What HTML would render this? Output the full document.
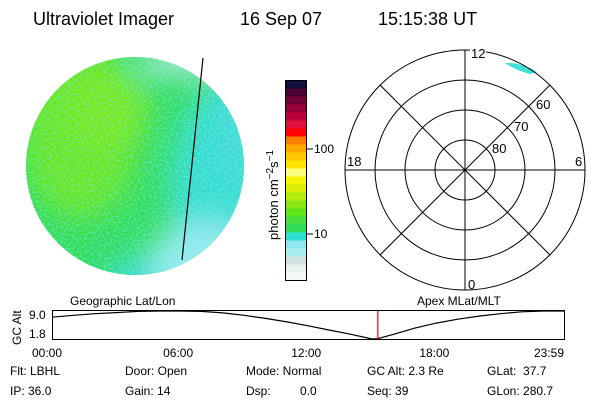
<!DOCTYPE html>
<html><head><meta charset="utf-8"><style>
body{margin:0;background:#fff;}
svg{display:block;font-family:"Liberation Sans",sans-serif;}
text{fill:#000;}
</style></head><body>
<svg id="c" width="600" height="400" viewBox="0 0 600 400">
<defs>
<clipPath id="disk"><circle cx="135" cy="166" r="109"/></clipPath>
<filter id="blur" x="-50%" y="-50%" width="200%" height="200%"><feGaussianBlur stdDeviation="14"/></filter>
<filter id="speck"><feTurbulence type="fractalNoise" baseFrequency="0.5" numOctaves="2" seed="3"/><feColorMatrix type="matrix" values="0 0 0 0 0.2  0 0 0 0 0.88  0 0 0 0 0.85  0 0 0 6 -2.8"/></filter>
</defs>
<g font-size="18" fill="#111">
<text x="33" y="25">Ultraviolet Imager</text>
<text x="240" y="25">16 Sep 07</text>
<text x="378" y="25">15:15:38 UT</text>
</g>
<g clip-path="url(#disk)">
<rect x="20" y="50" width="240" height="240" fill="#30dc58"/>
<g filter="url(#blur)">
<ellipse cx="80" cy="130" rx="60" ry="90" fill="#6be61a"/>
<ellipse cx="110" cy="110" rx="40" ry="40" fill="#7ae818"/>
<ellipse cx="230" cy="200" rx="60" ry="120" fill="#35dcd0"/>
<ellipse cx="150" cy="280" rx="45" ry="25" fill="#35dcd0"/>
<ellipse cx="205" cy="262" rx="55" ry="40" fill="#9aeaf0"/>
<ellipse cx="250" cy="110" rx="25" ry="80" fill="#45d9d4"/>
<ellipse cx="185" cy="62" rx="50" ry="12" fill="#c6ecec"/>
</g>
<rect x="20" y="50" width="240" height="240" filter="url(#speck)" opacity="0.45"/>
</g>
<line x1="203" y1="58" x2="182" y2="260" stroke="#000" stroke-width="1.2"/>
<g>
<g id="cb"></g>
<rect x="285.5" y="80.5" width="21" height="200" fill="none" stroke="#000"/>
<line x1="306" y1="149" x2="313" y2="149" stroke="#000"/>
<line x1="306" y1="234" x2="313" y2="234" stroke="#000"/>
<text x="314" y="153" font-size="12">100</text>
<text x="314" y="238" font-size="12">10</text>
<text transform="translate(278,240) rotate(-90)" font-size="13">photon cm<tspan dy="-5" font-size="10">−2</tspan><tspan dy="5">s</tspan><tspan dy="-5" font-size="10">−1</tspan></text>
</g>
<g fill="none" stroke="#000">
<path d="M505,63 Q520,62 537,72 L530,74 Q515,70 505,63Z" fill="#3fe0d6" stroke="none"/>
<circle cx="465" cy="170" r="30"/><circle cx="465" cy="170" r="60"/><circle cx="465" cy="170" r="90"/><circle cx="465" cy="170" r="120"/>
<line x1="465" y1="50" x2="465" y2="290"/><line x1="345" y1="170" x2="585" y2="170"/>
<line x1="380" y1="85" x2="550" y2="255"/><line x1="550" y1="85" x2="380" y2="255"/>
</g>
<g font-size="13">
<rect x="470" y="45" width="16" height="14" fill="#fff"/>
<text x="471" y="58">12</text><text x="468" y="289">0</text>
<text x="347" y="166">18</text><text x="575" y="166">6</text>
<text x="536" y="109">60</text><text x="514" y="131">70</text><text x="492" y="153">80</text>
</g>
<g>
<text x="70" y="305" font-size="12">Geographic Lat/Lon</text>
<text x="417" y="305" font-size="12">Apex MLat/MLT</text>
<rect x="52.5" y="310.5" width="512" height="29" fill="none" stroke="#000"/>
<text transform="translate(21,345) rotate(-90)" font-size="12">GC Alt</text>
<text x="29" y="319" font-size="12">9.0</text>
<text x="29" y="338" font-size="12">1.8</text>
<path id="curve" fill="none" stroke="#000" stroke-width="1.2"/>
<line id="marker" y1="311" y2="339" stroke="#f00" stroke-width="1.2"/>
<g id="xt" font-size="12"></g>
</g>
<g font-size="12">
<text x="10" y="375">Flt: LBHL</text><text x="10" y="395">IP: 36.0</text>
<text x="125" y="375">Door: Open</text><text x="125" y="395">Gain: 14</text>
<text x="246" y="375">Mode: Normal</text><text x="246" y="395">Dsp:</text><text x="300" y="395">0.0</text>
<text x="367" y="375">GC Alt: 2.3 Re</text><text x="367" y="395">Seq: 39</text>
<text x="487" y="375">GLat:&#160;&#160;37.7</text><text x="487" y="395">GLon: 280.7</text>
</g>
</svg>
<script>
const cbColors=["#f4f9f6","#e6f2ec","#d0e2e2","#a9ecf0","#8ee8ef","#2fdfd4","#2fdc5a","#45df40","#5ee51a","#8ae812","#b5ec10","#dcef0a","#f5f500","#ffff80","#ffe500","#ffc800","#ffa800","#ff7f00","#ff0000","#e0103c","#b8003c","#98003a","#700036","#4a0030","#10103c"];
const hours=[0,1,2,3,4,5,6,7,8,9,10,11,12,13,14,15,15.26,16,17,18,19,20,21,22,23,23.98];
const alts=[7.4,7.9,8.3,8.6,8.9,9.0,9.0,8.9,8.5,7.9,7.1,6.2,5.2,4.1,3.0,1.8,1.9,3.0,4.6,5.9,6.9,7.7,8.3,8.8,9.0,9.0];
const xTicks=["00:00","06:00","12:00","18:00","23:59"];
const tickHours=[0,6,12,18,23.98];
const markerHour=15.26;
const NS="http://www.w3.org/2000/svg";
const cb=document.getElementById('cb');
const bh=200/cbColors.length;
cbColors.forEach((c,i)=>{const r=document.createElementNS(NS,'rect');
r.setAttribute('x',285);r.setAttribute('y',280-(i+1)*bh);r.setAttribute('width',21);r.setAttribute('height',bh+0.5);r.setAttribute('fill',c);


cb.appendChild(r);});
const xs=h=>52+h/23.98*512;
const ys=a=>339-(a-1.8)/(9.0-1.8)*28;
const curve=document.getElementById('curve');
curve.setAttribute('d',hours.map((h,i)=>(i?'L':'M')+xs(h).toFixed(1)+','+ys(alts[i]).toFixed(1)).join(''));


const m=document.getElementById('marker');m.setAttribute('x1',xs(markerHour));m.setAttribute('x2',xs(markerHour));
const xt=document.getElementById('xt');
xTicks.forEach((t,i)=>{const el=document.createElementNS(NS,'text');
const x=xs(tickHours[i]);el.setAttribute('x',i==0?32:(i==4?x-30:x-17));el.setAttribute('y',357);el.textContent=t;


xt.appendChild(el);});
</script>
</body></html>
